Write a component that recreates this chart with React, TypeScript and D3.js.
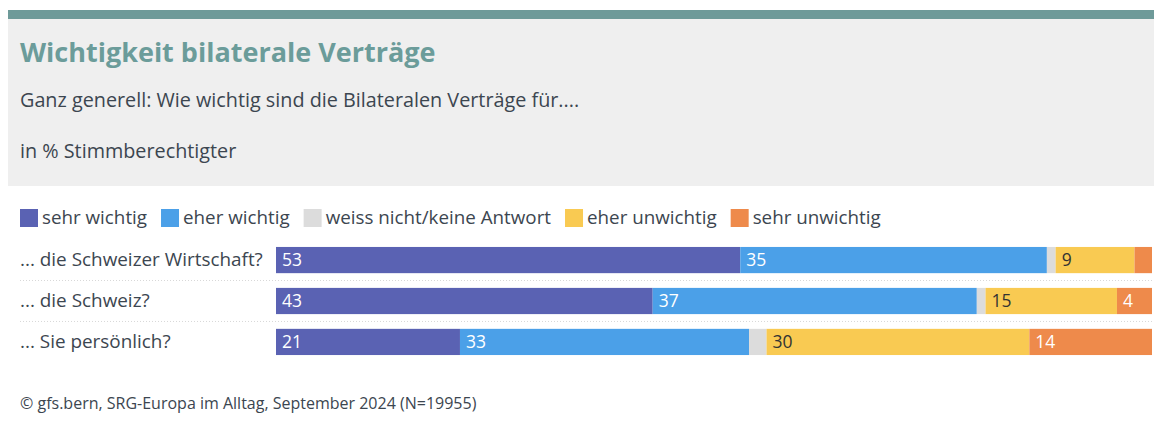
import * as d3 from 'd3';
import React, { useRef, useEffect } from 'react';

const categories = ['... die Schweizer Wirtschaft?', '... die Schweiz?', '... Sie persönlich?'];
const seriesNames = ['sehr wichtig', 'eher wichtig', 'weiss nicht/keine Antwort', 'eher unwichtig', 'sehr unwichtig'];
const sehrWichtig = [53, 43, 21];
const eherWichtig = [35, 37, 33];
const weissNicht = [1, 1, 2];
const eherUnwichtig = [9, 15, 30];
const sehrUnwichtig = [2, 4, 14];
// which segments show a number (per row, per series)
const showLabelRow = [[true, true, false, true, false], [true, true, false, true, true], [true, true, false, true, true]];

const colors = ['#5a62b3', '#4ba0e8', '#dcdcdc', '#f9ca52', '#ee8a4b'];
const labelColors = ['#ffffff', '#ffffff', '#333333', '#333333', '#ffffff'];
const FONT = '"Open Sans", "Noto Sans", sans-serif';
const TEXT = '#3c4650';

export default function App() {
  const ref = useRef<SVGSVGElement>(null);

  useEffect(() => {
    const W = 1154, H = 425;
    const svg = d3.select(ref.current).attr('width', W).attr('height', H);
    svg.selectAll('*').remove();

    // header
    svg.append('rect').attr('x', 8).attr('y', 10).attr('width', W - 8).attr('height', 176).attr('fill', '#efefef');
    svg.append('rect').attr('x', 8).attr('y', 10).attr('width', W - 8).attr('height', 9).attr('fill', '#6e9a99');
    svg.append('text').attr('x', 20).attr('y', 62).attr('font-family', FONT).attr('font-weight', 700)
      .attr('font-size', 27).attr('fill', '#6b9c9a').text('Wichtigkeit bilaterale Verträge');
    svg.append('text').attr('x', 20).attr('y', 107).attr('font-family', FONT)
      .attr('font-size', 19.8).attr('fill', TEXT).text('Ganz generell: Wie wichtig sind die Bilateralen Verträge für....');
    svg.append('text').attr('x', 20).attr('y', 158).attr('font-family', FONT)
      .attr('font-size', 19.8).attr('fill', TEXT).text('in % Stimmberechtigter');

    // legend
    const legend = svg.append('g');
    let lx = 20;
    seriesNames.forEach((name, i) => {
      legend.append('rect').attr('x', lx).attr('y', 209).attr('width', 18).attr('height', 18).attr('fill', colors[i]);
      const t = legend.append('text').attr('x', lx + 22).attr('y', 224).attr('font-family', FONT)
        .attr('font-size', 18.8).attr('fill', TEXT).text(name);
      const len = (t.node() as SVGTextElement).getComputedTextLength();
      lx += 22 + len + 14;
    });

    // bars
    const series = [sehrWichtig, eherWichtig, weissNicht, eherUnwichtig, sehrUnwichtig];
    const rows = categories.map((c, r) => {
      const o: any = { cat: c };
      seriesNames.forEach((s, i) => { o[s] = series[i][r]; });
      return o;
    });
    const stack = d3.stack().keys(seriesNames)(rows);

    const x = d3.scaleLinear().domain([0, 100]).range([276, 1152]);
    const y = d3.scaleBand().domain(categories).range([240, 362]).paddingInner(0.36).paddingOuter(0.17);

    // separators
    categories.slice(1).forEach(c => {
      const sy = (y(c) as number) - (y.step() * y.paddingInner()) / 2;
      svg.append('line').attr('x1', 20).attr('x2', 1152).attr('y1', sy).attr('y2', sy)
        .attr('stroke', '#d8d8d8').attr('stroke-dasharray', '1,2');
    });

    svg.selectAll('text.cat').data(categories).join('text').attr('class', 'cat')
      .attr('x', 20).attr('y', d => (y(d) as number) + y.bandwidth() / 2 + 6)
      .attr('font-family', FONT).attr('font-size', 18.9).attr('fill', TEXT).text(d => d);

    stack.forEach((layer, i) => {
      const g = svg.append('g');
      g.selectAll('rect').data(layer).join('rect')
        .attr('x', d => x(d[0])).attr('width', d => x(d[1]) - x(d[0]))
        .attr('y', d => y((d.data as any).cat) as number).attr('height', y.bandwidth())
        .attr('fill', colors[i]);
      g.selectAll('text').data(layer.filter((d, r) => showLabelRow[r][i])).join('text')
        .attr('x', d => x(d[0]) + 6).attr('y', d => (y((d.data as any).cat) as number) + y.bandwidth() / 2 + 6)
        .attr('font-family', FONT).attr('font-size', 17.5).attr('fill', labelColors[i])
        .text(d => d[1] - d[0]);
    });

    // footer
    svg.append('text').attr('x', 20).attr('y', 409).attr('font-family', FONT)
      .attr('font-size', 16).attr('fill', TEXT).text('© gfs.bern, SRG-Europa im Alltag, September 2024 (N=19955)');
  }, []);

  return (
    <div style={{ position: 'absolute', left: 0, top: 0 }}>
      <svg ref={ref} style={{ display: 'block' }}></svg>
    </div>
  );
}
